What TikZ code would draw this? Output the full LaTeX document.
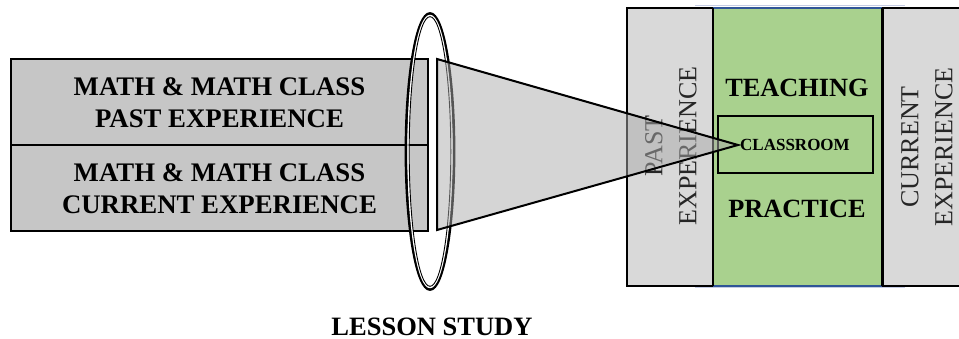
\documentclass[tikz,border=0pt]{standalone}
\usepackage{fontspec}
\setmainfont{Liberation Serif}
\definecolor{boxgray}{HTML}{C6C6C6}
\definecolor{panelgray}{HTML}{D9D9D9}
\definecolor{lensgray}{HTML}{ABABAB}
\definecolor{teachgreen}{HTML}{A9D18E}
\definecolor{edgeblue}{HTML}{2F5597}
\definecolor{faintblue}{HTML}{C5CCE4}
\definecolor{vtext}{HTML}{262626}
\begin{document}
\begin{tikzpicture}[x=1pt,y=-1pt,
  mathbox/.style={draw=black, line width=2pt, fill=boxgray, minimum width=417pt, minimum height=86pt, align=center, inner sep=0pt, font=\fontsize{26.8}{32}\selectfont\bfseries},
  sidepanel/.style={draw=black, line width=1.9pt, fill=panelgray, minimum height=278pt, inner sep=0pt},
  vlabel/.style={rotate=90, align=center, text=vtext, inner sep=0pt, font=\fontsize{26}{34}\selectfont},
  biglabel/.style={anchor=base, inner sep=0pt, font=\fontsize{26.3}{30}\selectfont\bfseries}]
\useasboundingbox (0,0) rectangle (959,339);
% right panels
\node[sidepanel, minimum width=86pt] (pastpanel) at (670,147) {};
\node[sidepanel, minimum width=90pt] (curpanel) at (928,147) {};
\node[fill=teachgreen, minimum width=169pt, minimum height=278pt, inner sep=0pt] (green) at (797.5,147) {};
\draw[faintblue, line width=1pt] (695,6) coordinate (ft1) -- (905,6) coordinate (ft2);
\draw[faintblue, line width=1pt] (695,288) coordinate (fb1) -- (905,288) coordinate (fb2);
\draw[edgeblue, line width=2.2pt] (green.north west) -- (green.north east);
\draw[edgeblue, line width=2.2pt] (green.south west) -- (green.south east);
\draw[black, line width=1.9pt] (green.north west) -- (green.south west);
\draw[black, line width=1.9pt] (green.north east) -- (green.south east);
\node[draw=black, line width=1.9pt, minimum width=155pt, minimum height=57pt, inner sep=0pt] (classbox) at (795.5,144.5) {};
\node[vlabel] (pastlbl) at (671,146) {PAST\\EXPERIENCE};
\node[vlabel] (curlbl) at (927,147) {CURRENT\\EXPERIENCE};
\node[biglabel] (teach) at (797,97) {TEACHING};
\node[biglabel] (pract) at (797,218) {PRACTICE};
% left boxes
\node[mathbox] (pastmath) at (219.5,102.5) {MATH \& MATH CLASS\\PAST EXPERIENCE};
\node[mathbox] (curmath) at (219.5,188.5) {MATH \& MATH CLASS\\CURRENT EXPERIENCE};
% lens
\draw[black, line width=2.8pt] (430,151.5) ellipse [x radius=24, y radius=138];
\draw[white, line width=1.4pt] (430,151.5) ellipse [x radius=22, y radius=136];
\draw[black, line width=0.9pt] (430,151.5) ellipse [x radius=20.8, y radius=134.8];
% beam
\coordinate (bt) at (437,59);
\coordinate (bb) at (437,230);
\coordinate (apex) at (738,145);
\draw[black, line width=2pt, fill=lensgray, fill opacity=0.5, line join=miter] (bt) -- (apex) -- (bb) -- cycle;
\node[anchor=base west, inner sep=0pt, font=\fontsize{17}{20}\selectfont\bfseries] (classlbl) at (740,151) {CLASSROOM};
\node[anchor=base, inner sep=0pt, font=\fontsize{26.5}{30}\selectfont\bfseries] (lesson) at (432,335) {LESSON STUDY};
\end{tikzpicture}
\end{document}
